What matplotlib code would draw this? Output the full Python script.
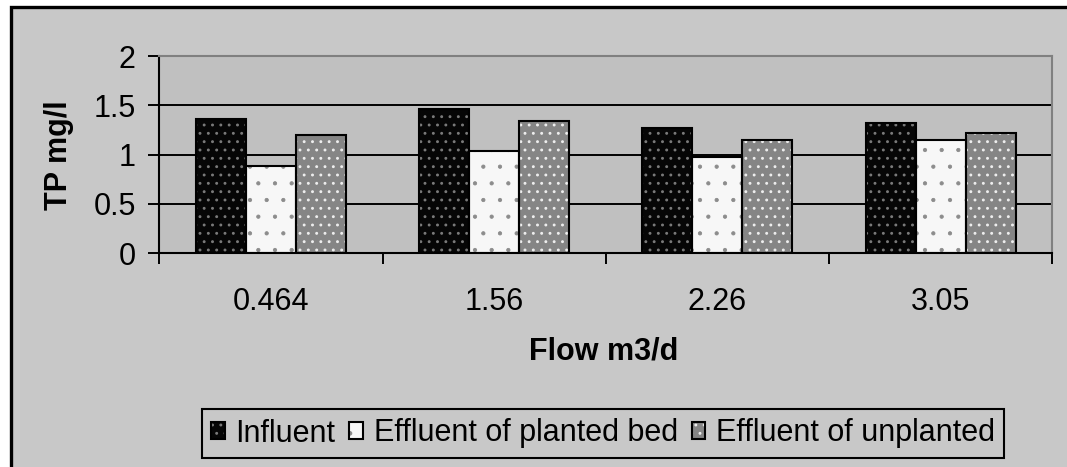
import matplotlib
matplotlib.use("Agg")
import matplotlib.pyplot as plt
import numpy as np
from matplotlib.patches import Rectangle
from matplotlib.legend_handler import HandlerTuple

# Data
flows = ["0.464", "1.56", "2.26", "3.05"]
influent = [1.365, 1.46, 1.27, 1.32]
planted = [0.89, 1.04, 0.98, 1.15]
unplanted = [1.20, 1.34, 1.15, 1.22]
series_names = ["Influent", "Effluent of planted bed", "Effluent of unplanted"]

plt.rcParams["font.family"] = ["Liberation Sans", "DejaVu Sans"]

W, H, DPI = 1067, 467, 100
FS = 22
fig = plt.figure(figsize=(W / DPI, H / DPI), dpi=DPI, facecolor="white")

# chart area with black frame (top/left visible)
fig.patches.append(Rectangle((10.5 / W, -0.3), 1.2, 1.3 - 7 / H, transform=fig.transFigure,
                             facecolor="#c8c8c8", edgecolor="black", linewidth=2.4,
                             zorder=-10))

ax = fig.add_axes([159.3 / W, 1 - 253.3 / H, (1052.3 - 159.3) / W, (253.3 - 56) / H])
ax.set_facecolor("#c0c0c0")

x = np.arange(len(flows))
w = 0.224
styles = [
    dict(fc="#060606", hc="#7a7a7a", hatch="..", hlw=0.9),
    dict(fc="#f7f7f7", hc="#8c8c8c", hatch=".", hlw=0.6),
    dict(fc="#858585", hc="#eeeeee", hatch="..", hlw=0.9),
]
handles = []
for i, (vals, st) in enumerate(zip([influent, planted, unplanted], styles)):
    pos = x + (i - 1) * w
    plt.rcParams["hatch.linewidth"] = st["hlw"]
    fill = ax.bar(pos, vals, w, color=st["fc"], edgecolor=st["hc"], hatch=st["hatch"],
                  linewidth=0, zorder=2)
    outline = ax.bar(pos, vals, w, fill=False, edgecolor="black", linewidth=1.5, zorder=3)
    handles.append((fill.patches[0], outline.patches[0]))

ax.set_xlim(-0.5, 3.5)
ax.set_ylim(0, 2)
ax.set_yticks([0, 0.5, 1, 1.5, 2])
ax.set_yticklabels(["0", "0.5", "1", "1.5", "2"])
ax.set_xticks(x)
ax.set_xticklabels(flows)
ax.set_xticks(np.arange(-0.5, 3.6, 1), minor=True)

ax.set_axisbelow(True)
ax.yaxis.grid(True, color="black", linewidth=1.4)
ax.tick_params(axis="y", direction="out", length=8, width=1.4, labelsize=FS, pad=9,
               left=True, right=False, colors="black")
ax.tick_params(axis="x", which="major", length=0, labelsize=FS, pad=24)
ax.tick_params(axis="x", which="minor", direction="out", length=8, width=1.4)

for s in ["left", "bottom"]:
    ax.spines[s].set_color("black")
    ax.spines[s].set_linewidth(1.5)
for s in ["top", "right"]:
    ax.spines[s].set_color("#808080")
    ax.spines[s].set_linewidth(1.5)

fig.text(59 / W, 1 - 155 / H, "TP mg/l", rotation=90, ha="center", va="center",
         fontsize=FS, fontweight="bold")
fig.text(604 / W, 1 - 352 / H, "Flow m3/d", ha="center", va="center",
         fontsize=FS, fontweight="bold")

leg = fig.legend(handles, series_names, handler_map={tuple: HandlerTuple()},
                 loc="center", bbox_to_anchor=(603 / W, 1 - 433.5 / H), ncol=3,
                 fontsize=FS, frameon=True, fancybox=False, framealpha=1,
                 edgecolor="black", facecolor="#c8c8c8", handlelength=0.45,
                 handleheight=0.45, handletextpad=0.35, columnspacing=0.45,
                 borderpad=0.3, borderaxespad=0)
leg.get_frame().set_linewidth(1.5)

fig.savefig("out.png", dpi=DPI, facecolor="white")
